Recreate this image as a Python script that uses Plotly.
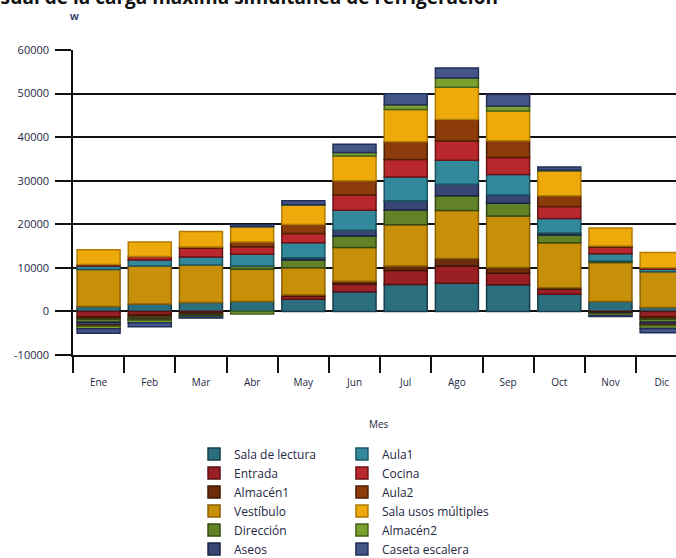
import plotly.graph_objects as go

# Months on the category axis
months = ["Ene", "Feb", "Mar", "Abr", "May", "Jun", "Jul", "Ago", "Sep", "Oct", "Nov", "Dic"]

# Value-axis ticks (W)
y_ticks = [-10000, 0, 10000, 20000, 30000, 40000, 50000, 60000]
y_tick_labels = ["-10000", "0", "10000", "20000", "30000", "40000", "50000", "60000"]

# Monthly simultaneous cooling load per space (W)
sala_lectura = [1150, 1700, 2050, 2300, 2800, 4500, 6200, 6450, 6100, 3950, 2300, 900]
entrada = [-1300, -800, -400, 0, 750, 1800, 3200, 4000, 2650, 1200, -150, -1200]
almacen1 = [-500, -600, -300, 0, 200, 600, 1000, 1700, 1350, 300, -250, -600]
vestibulo = [8500, 8750, 8600, 7400, 6300, 7800, 9500, 11000, 11800, 10300, 8950, 8200]
direccion = [-700, -400, -350, 750, 1750, 2600, 3400, 3400, 2950, 1800, 300, -700]
aseos = [-600, -100, -150, 0, 530, 1350, 2100, 2650, 1900, 450, -200, -500]
aula1 = [750, 1370, 1830, 2650, 3430, 4550, 5450, 5500, 4650, 3350, 1670, 600]
cocina = [350, 760, 2050, 1750, 2130, 3550, 4000, 4400, 3950, 2750, 1500, 300]
aula2 = [-300, -100, 230, 1070, 2060, 3250, 4100, 4950, 3800, 2450, 300, -300]
sala_usos = [3400, 3350, 3580, 3500, 4420, 5700, 7400, 7400, 6850, 5700, 4100, 3500]
almacen2 = [-600, -600, -200, -600, 150, 760, 1100, 2100, 1150, 200, -400, -600]
caseta = [-1000, -900, -100, 500, 910, 1900, 2500, 2300, 2650, 700, -150, -1000]

series = [
    ("Sala de lectura", sala_lectura, "#2b6e7e", "#163e48", "legend"),
    ("Entrada", entrada, "#9b2024", "#5a1013", "legend"),
    ("Almacén1", almacen1, "#6e2d0a", "#3d1604", "legend"),
    ("Vestíbulo", vestibulo, "#c88f08", "#8a6004", "legend"),
    ("Dirección", direccion, "#628228", "#344a12", "legend"),
    ("Aseos", aseos, "#374673", "#1a2446", "legend"),
    ("Aula1", aula1, "#32899b", "#1a5560", "legend2"),
    ("Cocina", cocina, "#b9282d", "#6e1216", "legend2"),
    ("Aula2", aula2, "#8c3c0a", "#4e1f04", "legend2"),
    ("Sala usos múltiples", sala_usos, "#edaa0a", "#b07c04", "legend2"),
    ("Almacén2", almacen2, "#7aa030", "#46621a", "legend2"),
    ("Caseta escalera", caseta, "#445587", "#222e58", "legend2"),
]

fig = go.Figure()
for name, vals, fill, edge, leg in series:
    fig.add_trace(go.Bar(
        name=name,
        x=months,
        y=[v if v != 0 else None for v in vals],
        marker=dict(color=fill, line=dict(color=edge, width=1.5)),
        legend=leg,
    ))

txt = "#1e2744"
font_family = "Open Sans"

legend_style = dict(
    yanchor="top", xanchor="left", y=-0.277,
    orientation="v", traceorder="normal",
    font=dict(size=12, color=txt), itemwidth=30,
    bgcolor="rgba(0,0,0,0)",
)

fig.update_layout(
    width=676,
    height=558,
    margin=dict(l=73, r=0, t=50, b=203, autoexpand=False),
    barmode="relative",
    bargap=0.16,
    plot_bgcolor="white",
    paper_bgcolor="white",
    font=dict(family=font_family, size=11, color=txt),
    legend=dict(x=0.2007, **legend_style),
    legend2=dict(x=0.446, **legend_style),
    xaxis=dict(
        type="category",
        range=[-0.5, 11.28],
        tickson="boundaries",
        ticks="outside", ticklen=16, tickwidth=1.5, tickcolor="#111",
        showline=True, linecolor="#111", linewidth=1.5,
        showgrid=False,
        tickfont=dict(size=10, color=txt),
        ticklabelstandoff=17,
    ),
    yaxis=dict(
        range=[-10000, 60000],
        tickmode="array", tickvals=y_ticks, ticktext=y_tick_labels,
        ticks="outside", ticklen=16, tickwidth=1.5, tickcolor="#111",
        showline=True, linecolor="#111", linewidth=1.5,
        showgrid=True, gridcolor="#111", gridwidth=1.5,
        zeroline=True, zerolinecolor="#111", zerolinewidth=1.5,
        tickfont=dict(size=11, color=txt),
        ticklabelstandoff=4,
    ),
    showlegend=True,
)

fig.add_annotation(
    text="<b>Evolución mensual de la carga máxima simultánea de refrigeración</b>",
    xref="paper", yref="paper", x=0.708, y=1.1246,
    xanchor="right", yanchor="bottom", showarrow=False,
    font=dict(size=19, color="#111", family=font_family),
)
fig.add_annotation(
    text="<b>W</b>", xref="paper", yref="paper", x=0.0017, y=1.111,
    xanchor="center", yanchor="middle", showarrow=False,
    font=dict(size=9, color="#2a3560", family=font_family),
)
fig.add_annotation(
    text="Mes", xref="paper", yref="paper", x=0.5075, y=-0.226,
    xanchor="center", yanchor="middle", showarrow=False,
    font=dict(size=10, color=txt, family=font_family),
)

fig.write_html("out.html")
